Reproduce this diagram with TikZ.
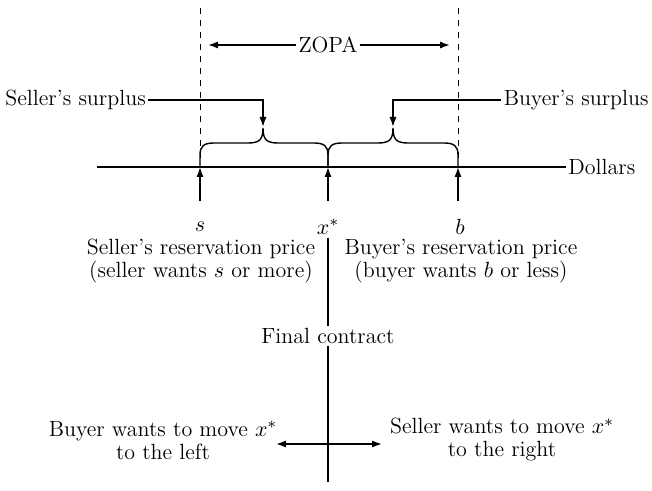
\documentclass[tikz,border=0pt]{standalone}
\usepackage{tikz}
\usetikzlibrary{positioning,arrows.meta}

\begin{document}
\begin{tikzpicture}[x=0.5pt,y=-0.5pt,inner sep=1pt,font=\fontsize{11}{11.5}\selectfont]
\tikzstyle{connect}=[-{Latex[length=5pt,width=3.6pt]}, line width=0.8pt]
\tikzstyle{both}=[{Latex[length=5pt,width=3.6pt]}-{Latex[length=5pt,width=3.6pt]}, line width=0.8pt]
\tikzstyle{plain}=[line width=0.7pt]
\tikzstyle{label}=[align=center]
\useasboundingbox (0,0) rectangle (652,491);
% points on the dollar line
\coordinate (s) at (200,167);
\coordinate (x) at (328,167);
\coordinate (b) at (458,167);
\coordinate (axisL) at (97,167);
\node[anchor=west] (dollars) at (566,167) {Dollars};
\draw[plain] (axisL) -- (dollars);
% zone of possible agreement
\coordinate (stop) at (200,8);
\coordinate (btop) at (458,8);
\coordinate (sdash) at (200,158);
\coordinate (bdash) at (458,158);
\draw[dashed] (stop) -- (sdash);
\draw[dashed] (btop) -- (bdash);
\node (zopa) at (328,45) {ZOPA};
\coordinate (zl) at (208,45);
\coordinate (zr) at (450,45);
\draw[connect] (zopa) -- (zl);
\draw[connect] (zopa) -- (zr);
% surplus braces
\foreach \l/\t/\r in {200/263/328, 328/393/458}
  \draw[plain] (\l,167) -- (\l,155) .. controls (\l,146) and (\l+4,143) .. (\l+14,143)
    -- (\t-15,143) .. controls (\t-4,143) and (\t,140) .. (\t,128)
    .. controls (\t,140) and (\t+4,143) .. (\t+15,143)
    -- (\r-14,143) .. controls (\r-4,143) and (\r,146) .. (\r,155) -- (\r,167);
\node[anchor=west] (sellsur) at (3,100) {Seller's surplus};
\node[anchor=east] (buysur) at (651,100) {Buyer's surplus};
\coordinate (stip) at (263,127);
\coordinate (btip) at (393,127);
\draw[connect] (sellsur) -| (stip);
\draw[connect] (buysur) -| (btip);
% reservation prices and contract
\node (slab) at (200,227) {$s$};
\node (xlab) at (328,227) {$x^*$};
\node (blab) at (460,227) {$b$};
\coordinate (sbot) at (200,201);
\coordinate (xbot) at (328,201);
\coordinate (bbot) at (458,201);
\draw[connect] (sbot) -- (s);
\draw[connect] (xbot) -- (x);
\draw[connect] (bbot) -- (b);
\node[label] (sres) at (201,261) {Seller's reservation price\\(seller wants $s$ or more)};
\node[label] (bres) at (461,261) {Buyer's reservation price\\(buyer wants $b$ or less)};
\node (final) at (328,336) {Final contract};
\coordinate (xtop) at (328,238);
\coordinate (xend) at (328,482);
\draw[plain] (xtop) -- (final);
\draw[plain] (final) -- (xend);
% tug of war over x*
\node[label] (bwant) at (163,440) {Buyer wants to move $x^*$\\to the left};
\node[label] (swant) at (502,440) {Seller wants to move $x^*$\\to the right};
\coordinate (pl) at (276,444);
\coordinate (pr) at (382,444);
\draw[both] (pl) -- (pr);
\end{tikzpicture}
\end{document}
